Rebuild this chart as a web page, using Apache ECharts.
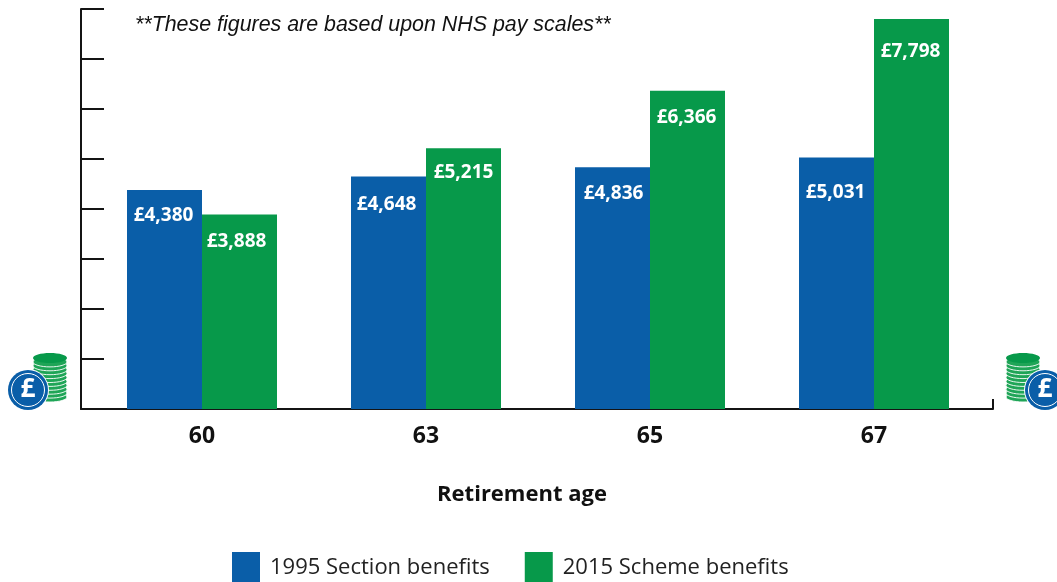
<!DOCTYPE html>
<html>
<head>
<meta charset="utf-8">
<style>html,body{margin:0;padding:0;background:#fff}#chart{width:1057px;height:582px}</style>
<script src="https://cdn.jsdelivr.net/npm/echarts@6/dist/echarts.min.js"></script>
</head>
<body>
<div id="chart"></div>
<script>
const retirementAges = ['60', '63', '65', '67'];
const section1995 = [4380, 4648, 4836, 5031];
const scheme2015 = [3888, 5215, 6366, 7798];
const seriesNames = ['1995 Section benefits', '2015 Scheme benefits'];
const noteText = '**These figures are based upon NHS pay scales**';
const xTitle = 'Retirement age';

const BLUE = '#0a5ea8';
const GREEN = '#07994a';
const AXIS = '#141414';
const BODY_FONT = '"Open Sans", "Noto Sans", sans-serif';

// Hand placement of each value label inside its bar, as [dx, dy] from the default spot.
const sectionLabelNudge = [[-1, 0], [-2, 2], [1, 1], [-1, 10]];
const schemeLabelNudge = [[-3, 1], [0, -1], [-1, 1], [-1, 7]];

// A stack of coins with a round pound badge in front of it.
function coinIcon(stackX, badgeX) {
  const coins = [];
  for (let i = 10; i >= 0; i--) {
    coins.push({
      type: 'ellipse',
      shape: { cx: stackX, cy: 358 + i * 3.9, rx: 17, ry: 5 },
      style: { fill: i === 0 ? GREEN : '#1fa557', stroke: '#ffffff', lineWidth: i === 0 ? 0 : 0.9 }
    });
  }
  return [
    ...coins,
    { type: 'circle', shape: { cx: badgeX, cy: 390, r: 21 }, style: { fill: '#ffffff' } },
    { type: 'circle', shape: { cx: badgeX, cy: 390, r: 20 }, style: { fill: BLUE } },
    { type: 'circle', shape: { cx: badgeX, cy: 390, r: 16.5 }, style: { fill: BLUE, stroke: '#ffffff', lineWidth: 1 } },
    {
      type: 'text',
      style: {
        x: badgeX, y: 390, text: '£', fill: '#ffffff', align: 'center', verticalAlign: 'middle',
        font: 'bold 26px ' + BODY_FONT
      }
    }
  ];
}

const barLabel = {
  show: true,
  position: 'insideTop',
  distance: 16,
  color: '#ffffff',
  fontFamily: BODY_FONT,
  fontWeight: 'bold',
  fontSize: 19,
  formatter: p => '£' + p.value.toLocaleString('en-GB')
};

function withNudges(values, nudges) {
  return values.map((value, i) => ({ value, label: { offset: nudges[i] } }));
}

const chart = echarts.init(document.getElementById('chart'), null, { renderer: 'canvas' });
chart.setOption({
  animation: false,
  backgroundColor: '#ffffff',
  title: {
    text: noteText,
    left: 130,
    top: 10,
    textStyle: { fontFamily: '"Liberation Sans", Arial, sans-serif', fontStyle: 'italic', fontWeight: 'normal', fontSize: 21.4, color: '#111111' }
  },
  legend: {
    left: 227,
    top: 547,
    itemWidth: 28,
    itemHeight: 31,
    itemGap: 35,
    icon: 'rect',
    data: seriesNames,
    textStyle: { fontFamily: BODY_FONT, fontSize: 22, color: '#222222', padding: [0, 0, 0, 5] }
  },
  grid: [
    // Bars sit in the inner grid; the outer one carries the longer axis lines.
    { left: 90, right: 71, top: 9, bottom: 173 },
    { left: 81, right: 64, top: 9, bottom: 173 }
  ],
  xAxis: [
    {
      type: 'category',
      gridIndex: 0,
      data: retirementAges,
      axisLine: { show: false },
      axisTick: { show: false },
      axisLabel: { margin: 16, fontFamily: BODY_FONT, fontWeight: 'bold', fontSize: 23, color: '#111111' },
      name: xTitle,
      nameLocation: 'middle',
      nameGap: 75,
      nameTextStyle: { fontFamily: BODY_FONT, fontWeight: 'bold', fontSize: 22, color: '#111111', padding: [0, 32, 0, 0] }
    },
    {
      type: 'value',
      gridIndex: 1,
      min: 0,
      max: 1,
      interval: 1,
      splitLine: { show: false },
      axisLabel: { show: false },
      axisLine: { show: true, lineStyle: { color: AXIS, width: 2 } },
      axisTick: { show: true, inside: true, length: 10, lineStyle: { color: AXIS, width: 2 } }
    }
  ],
  yAxis: [
    { type: 'value', gridIndex: 0, min: 0, max: 8000, interval: 1000, show: false },
    {
      type: 'value',
      gridIndex: 1,
      min: 0,
      max: 8000,
      interval: 1000,
      splitLine: { show: false },
      axisLabel: { show: false },
      axisLine: { show: true, lineStyle: { color: AXIS, width: 2 } },
      axisTick: { show: true, inside: true, length: 23, lineStyle: { color: AXIS, width: 2 } }
    }
  ],
  series: [
    { name: seriesNames[0], type: 'bar', xAxisIndex: 0, yAxisIndex: 0, data: withNudges(section1995, sectionLabelNudge), barWidth: 75, barGap: 0, itemStyle: { color: BLUE }, label: barLabel },
    { name: seriesNames[1], type: 'bar', xAxisIndex: 0, yAxisIndex: 0, data: withNudges(scheme2015, schemeLabelNudge), barWidth: 75, barGap: 0, itemStyle: { color: GREEN }, label: barLabel }
  ],
  graphic: [...coinIcon(50, 28), ...coinIcon(1023, 1045)]
});
</script>
</body>
</html>
